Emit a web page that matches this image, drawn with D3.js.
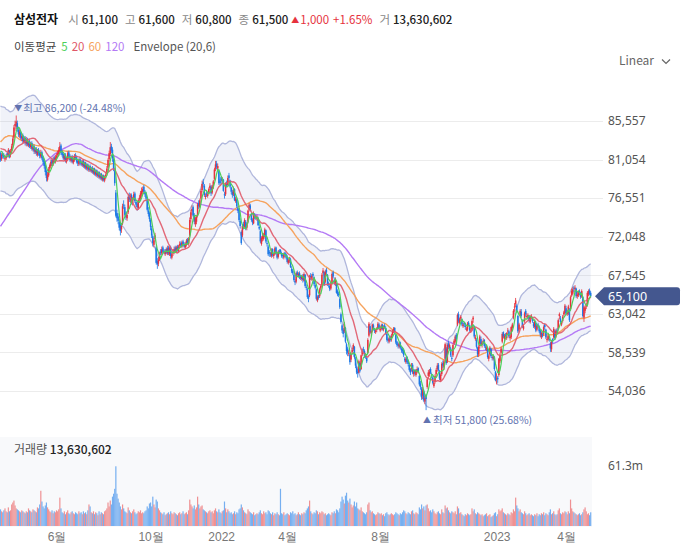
<!DOCTYPE html>
<html><head><meta charset="utf-8">
<script src="https://cdn.jsdelivr.net/npm/d3@7"></script>
<style>
body{margin:0;background:#fff;}
svg{display:block;font-family:"Noto Sans CJK KR","Noto Sans",sans-serif;}
</style></head><body><svg id="c" width="685" height="551"></svg>
<script>
// ---------------- DATA ----------------
const startDate = "2021-03-19", endDate = "2023-05-04";
const holidays = ["2021-05-05","2021-05-19","2021-08-16","2021-09-20","2021-09-21","2021-09-22","2021-10-04","2021-10-11","2021-12-31",
  "2022-01-31","2022-02-01","2022-02-02","2022-03-01","2022-03-09","2022-05-05","2022-06-01","2022-06-06","2022-08-15","2022-09-09","2022-09-12","2022-10-03","2022-10-10","2022-12-30",
  "2023-01-23","2023-01-24","2023-03-01","2023-05-01"];
// closes before the visible window (x100 won), used only to warm up the moving averages
const warmupCloses = [584,578,582,573,576,582,582,
  587,595,602,600,600,598,606,597,595,598,603,606,601,605,600,593,591,577,566,
  574,588,585,603,600,602,602,613,610,632,663,640,648,646,647,675,677,666,680,682,667,
  678,695,697,715,729,717,739,729,734,738,738,738,733,730,730,723,739,778,787,783,810,
  830,839,822,829,888,910,906,897,897,880,850,870,872,881,868,894,867,856,837,820,
  830,844,846,835,835,830,817,816,842,849,832,821,826,822,820,820,853,825,
  836,840,824,821,820,814,809,820,818,818,828,823,823];
// daily prices, x100 won
const closes = [
 810,816,815,813,812,815,816,822,814,
 820,826,835,848,852,855, 846,840,843,836,838,832,835,830, 834,828,831,826,829,823,825,820,822,818,821,
 818,815,819,812,808,803,796, 789,793,799, 804,808,806,811,809,813,
 815,818,822,826,819, 816,812,815,809,812,818,814,810,813,808,811,815,812,808,806,810,807,
 805,808,803,806,801,804,799,802,798,800,796,799,794,797,792,795,790,793,788,791,787,790,
 793,800,810,818,825,821, 812,800,783,745, 742,739,731,727, 733,756,757,746,743,746,767,
 764,768,761,765,770,762,758,755,763,766,771,774, 776,773,770,765,752,747,741,
 732,722,713,716,722,690,688,694,701,702,706,703,702,704,702,707,701,707,698,
 700,703,706,704,708,705,709,712,710,714,711,709,712,716,713,718,740,749,753,745,738,742,
 744,758,756,763,774,782,782,769,768,770,770,776,780,771,779,785,799,805,802,803,783,783,
 786,787,774,769,783,780,789,789,779,773,769,777,763,765,756,751,740,733,713,733,
 733,740,730,735,751,758,752,740,737,748,743,743,744,734,730,715,719,721,
 723,729,715,712,700,701,700,705,699,700,707,702,696,703,703,702,698,698,700,699,696,
 691,693,695,685,680,678,670,667,678,676,677,673,672,674,670,677,663,661,650,648,674,
 673,675,675,665,661,648,650,649,659,663,676,681,665,680,679,665,664,659,665,677,674,
 667,671,655,653,652,638,621,611,607,619,598,587,585,585,574,584,588,594,580,570,
 562,561,575,564,582,587,588,581,580,575,600,619,609,610,618,613,611,611,613,619,614,
 613,617,613,615,615,608,600,599,602,600,605,610,613,610,597,594,593,596,591,588,587,582,
 576,578,574,572,565,562,570,562,563,561,564,566,563,548,545,533,541,530,532,531,
 554,562,563,562,558,550,550,558,565,570,565,555,559,572,570,575,595,573,594,
 592,594,582,578,594,599,604,601,629,622,624,627,618,618,618,615,613,619,618,611,611,622,
 626,604,603,592,583,592,604,595,597,599,593,591,591,580,581,591,581,579,581,566,553,
 555,554,578,582,590,607,604,605,605,608,611,604,604,615,618,634,639,646,633,610,
 618,634,628,616,616,631,630,628,629,622,627,628,622,616,622,611,617,617,610,606,
 608,605,615,615,603,601,605,600,590,598,599,613,602,611,611,623,630,621,620,627,632,640,
 631,632,639,623,650,657,659,660,661,651,653,656,655,650,657,628,638,638,641,655,
 657,654,651];
const opens = [
 818,811,818,816,811,812,818,815,821,
 816,821,827,836,850,849, 853,845,839,842,835,839,831,836, 829,834,827,832,825,830,822,826,819,823,816,
 822,819,814,819,813,809,804, 797,787,792, 800,803,810,805,813,808,
 812,816,817,820,827, 820,817,811,816,808,811,819,815,809,814,807,810,816,813,809,805,811,
 808,804,809,802,807,800,805,798,803,797,801,795,800,793,798,791,796,789,794,787,792,786,
 791,794,801,811,817,826, 822,811,798,772, 748,744,738,735, 729,736,758,755,748,742,749,
 769,763,769,760,766,771,761,759,754,764,765,770, 773,779,772,771,763,751,748,
 740,730,721,711,718,708,692,689,695,703,701,708,704,700,706,701,708,700,708,
 696,701,702,708,703,709,704,710,713,709,715,712,708,711,717,712,722,741,750,755,746,735,
 738,745,760,755,765,775,784,780,767,771,768,772,777,779,772,778,788,800,806,800,797,786,
 790,786,787,770,770,784,781,792,786,778,773,770,776,762,764,754,752,739,726,722,
 735,732,738,731,738,752,757,745,740,736,746,744,741,742,732,727,712,718,
 718,722,728,713,709,703,701,698,706,698,700,708,701,697,704,705,701,699,696,702,700,
 697,690,692,694,683,681,676,669,668,679,675,678,674,671,675,669,676,662,659,651,652,
 675,671,677,673,664,659,646,652,651,660,664,678,679,668,682,676,666,663,660,666,679,
 670,665,666,657,654,648,630,617,612,610,614,595,590,584,583,577,586,589,592,578,
 568,563,562,573,566,583,589,587,582,579,585,605,616,608,611,617,612,609,612,614,618,
 611,613,618,612,617,614,607,601,598,603,600,606,610,614,606,598,595,592,597,590,589,588,
 578,574,580,575,571,566,566,571,560,565,559,563,567,558,549,543,535,540,528,535,
 545,558,560,566,560,556,546,551,560,566,571,563,553,560,573,568,578,590,575,
 596,590,590,579,582,596,598,606,618,630,620,625,624,616,620,617,613,612,620,617,610,612,
 624,616,601,600,591,583,593,601,594,598,600,592,589,590,578,583,590,580,578,580,563,
 555,556,559,575,585,598,609,601,606,602,610,610,602,603,614,626,638,642,640,628,
 612,628,633,622,613,622,634,628,626,628,621,627,626,619,615,620,612,618,615,611,
 603,607,607,618,612,600,601,601,596,589,601,603,610,604,612,613,628,625,618,622,630,631,
 637,630,631,635,636,652,654,661,659,660,651,652,657,654,651,650,626,634,639,641,
 653,658,655];
const highs = [
 820,818,820,818,815,817,820,824,822,
 823,829,838,851,856,862, 856,848,846,844,841,841,838,838, 837,836,833,834,831,832,828,828,825,825,823,
 824,821,822,821,815,811,806, 799,796,802, 806,811,812,814,815,816,
 818,821,825,831,829, 822,819,817,818,814,820,821,817,815,816,813,817,818,815,811,812,813,
 810,810,811,808,808,806,806,804,805,802,803,801,801,799,799,797,797,795,795,793,793,792,
 796,803,812,821,831,829, 825,814,801,775, 752,748,741,737, 736,759,763,758,750,749,770,
 772,771,771,767,773,773,764,761,765,769,774,778, 779,781,775,773,765,755,750,
 742,733,723,719,725,710,696,697,703,706,709,710,706,706,708,710,710,709,710,
 702,706,709,710,710,711,711,715,715,716,717,714,714,718,719,720,743,752,757,757,748,744,
 746,760,763,765,776,786,788,782,771,774,773,778,783,781,781,787,801,809,809,806,799,788,
 791,790,788,773,784,786,792,795,787,779,775,779,777,767,766,756,753,742,728,735,
 738,742,740,737,752,760,759,748,742,750,748,746,746,744,735,729,721,724,
 725,731,729,716,711,705,703,707,707,702,709,709,703,705,706,706,703,701,702,703,701,
 699,695,697,696,686,683,678,671,680,681,679,680,676,676,677,679,677,665,661,653,676,
 678,677,679,674,666,660,652,653,661,665,678,684,680,682,684,677,668,665,667,679,681,
 673,673,667,659,656,650,632,619,614,621,615,597,592,588,585,586,591,596,593,580,
 570,566,577,575,583,590,592,589,584,581,602,621,617,612,619,619,614,613,615,621,620,
 616,619,619,617,619,616,608,603,604,605,607,612,615,615,607,599,597,598,598,592,591,590,
 580,580,581,577,572,567,573,573,565,566,566,569,568,559,552,545,545,542,535,537,
 556,565,566,568,562,558,552,560,567,573,573,565,561,574,576,577,597,592,596,
 599,596,592,582,596,601,606,608,631,633,626,629,625,620,621,620,615,621,622,618,614,624,
 628,617,606,602,592,594,606,604,599,602,601,595,594,591,583,593,591,583,583,581,564,
 561,558,579,585,592,609,610,607,608,609,614,612,606,616,620,636,643,649,642,629,
 620,636,636,624,618,633,636,631,631,629,629,630,627,621,624,622,619,620,617,612,
 610,609,617,619,613,604,607,604,598,600,602,615,612,613,614,625,632,628,622,629,634,642,
 640,635,641,637,652,660,662,663,664,661,656,658,659,656,659,651,640,640,643,657,
 659,660,657];
const lows = [
 808,809,812,811,808,810,813,813,812,
 813,818,824,834,844,846, 843,837,836,834,832,830,829,827, 826,826,825,824,823,821,820,817,817,815,814,
 815,812,812,810,805,800,792, 785,785,790, 797,801,803,803,806,806,
 809,813,815,818,816, 814,810,809,807,806,809,812,808,807,806,805,808,810,806,803,803,804,
 803,802,801,800,799,798,797,796,796,795,794,793,792,791,790,789,788,787,786,785,785,784,
 788,792,799,808,815,818, 808,797,780,743, 738,735,728,722, 725,734,753,744,740,739,747,
 761,760,758,757,763,760,755,751,752,760,763,767, 770,771,767,762,750,744,738,
 728,719,709,708,715,688,683,686,692,699,699,701,700,698,700,699,699,698,695,
 694,698,700,702,701,703,702,707,708,707,709,707,706,709,711,710,720,737,746,743,735,732,
 735,743,753,754,763,772,778,767,764,767,766,770,775,768,770,776,786,797,799,797,781,780,
 782,783,773,765,768,778,780,785,777,770,766,768,762,760,754,748,738,730,711,720,
 729,730,728,728,736,750,750,738,734,735,741,740,739,733,728,713,710,715,
 716,720,713,709,698,697,697,696,697,695,699,700,694,695,700,700,696,695,694,697,694,
 689,688,690,684,678,676,668,664,666,674,673,671,670,669,667,668,661,658,648,644,650,
 670,669,673,663,659,646,644,647,649,658,662,675,663,666,677,663,661,657,658,664,672,
 664,663,654,651,650,636,619,608,603,608,596,583,581,581,571,574,584,587,578,567,
 560,556,561,562,565,581,585,579,578,573,584,603,607,605,609,611,608,607,609,612,612,
 609,611,611,610,613,606,598,596,596,598,598,604,608,608,595,592,590,590,589,585,584,580,
 574,572,572,569,563,559,563,560,557,558,557,561,561,546,542,530,531,528,525,518,
 543,555,557,560,555,548,544,549,558,563,563,553,551,558,567,565,576,571,573,
 589,588,580,575,580,594,596,599,616,620,618,622,616,614,615,612,610,610,616,609,608,610,
 620,602,599,590,580,580,590,593,591,595,591,588,587,578,575,581,579,576,576,564,552,
 548,550,557,573,583,596,602,598,603,600,607,602,599,601,612,624,633,638,631,608,
 609,626,626,614,611,620,627,625,624,620,619,624,620,614,613,609,610,614,608,603,
 601,603,605,612,601,597,599,598,586,586,596,601,600,602,608,611,624,619,616,620,627,629,
 629,628,629,621,634,650,652,656,656,649,648,650,652,648,649,626,621,631,636,639,
 651,652,649];
// daily volume, millions of shares
const volumes = [
 17,15,14,16,18,15,14,19,15,
 16,22,24,26,21,18, 17,16,15,14,16,15,14,13, 15,14,18,16,15,14,17,16,15,14,19,
 18,22,36,25,20,18,21, 24,19,17, 15,14,16,13,15,14,
 16,15,17,29,18, 14,13,15,12,14,16,13,12,14,15,13,12,14,13,12,15,13,
 14,12,15,13,14,12,16,22,20,14,13,15,12,14,13,11,15,12,14,13,12,15,
 16,18,24,20,26,22, 30,33,38,61, 33,28,24,20, 17,22,18,15,14,13,19,
 16,14,13,15,17,14,12,13,15,14,16,13, 14,13,15,16,20,18,23,
 24,20,30,22,19,27,25,18,16,14,13,12,14,11,12,13,14,12,15,
 13,12,14,13,12,11,13,14,12,13,15,12,13,14,12,16,27,22,20,18,21,17,
 19,30,22,18,20,21,17,16,15,14,13,15,16,14,15,13,16,18,15,14,17,14,
 13,15,16,25,18,14,17,15,13,14,12,13,15,12,14,13,17,18,22,19,
 16,14,13,12,17,15,14,13,12,14,11,12,13,12,14,16,13,12,
 15,13,14,12,16,15,13,12,14,11,13,12,14,12,11,38,13,12,14,11,12,
 13,12,11,14,13,15,12,13,11,12,14,12,11,13,12,14,13,16,18,20,26,
 15,13,12,14,13,16,15,12,14,13,15,14,12,13,11,12,13,12,11,14,13,
 15,13,17,16,14,18,25,30,27,23,31,34,26,24,28,22,19,21,25,20,
 24,18,17,16,19,15,14,13,12,14,22,24,16,14,15,13,12,11,12,14,13,
 12,13,11,12,10,13,14,12,11,12,13,12,11,12,14,13,12,11,13,12,14,16,
 15,13,12,14,13,12,15,16,13,12,14,13,12,19,17,22,18,20,16,21,
 22,18,15,16,14,17,15,13,12,14,15,13,12,17,14,13,21,18,19,
 16,14,13,15,14,13,15,12,20,18,13,14,12,11,10,12,11,13,12,11,12,18,
 15,17,13,12,14,13,12,11,12,10,11,12,13,10,11,12,9,10,11,13,14,
 10,12,17,15,16,18,14,13,12,11,13,12,11,14,13,17,15,29,21,18,
 15,17,14,13,12,15,13,11,12,13,11,12,11,10,12,11,13,10,12,11,
 13,12,14,11,13,12,11,14,17,12,13,15,12,11,12,16,18,13,12,14,13,15,
 14,12,15,13,27,18,15,14,13,12,11,12,13,11,12,14,17,19,15,12,
 13,11,14];
const yTicks = [85557, 81054, 76551, 72048, 67545, 63042, 58539, 54036];
const xTickDates = ["2021-06-01","2021-10-01","2022-01-03","2022-04-01","2022-08-01","2023-01-02","2023-04-03"];
const xTickLabels = ["6월","10월","2022","4월","8월","2023","4월"];
const volTicks = [61.3];
const maPeriods = [5, 20, 60, 120];
const envelope = {period: 20, pct: 6};
const headerName = "삼성전자";
const headerLabels = ["시","고","저","종"];
const headerValues = ["61,100","61,600","60,800","61,500"];
const headerChange = ["1,000","+1.65%"];
const headerVolume = "13,630,602";

// ---------------- STYLE ----------------
const UP = "#e6323d", DOWN = "#1c78e6";
const VUP = "#ef9193", VDOWN = "#76aff0";
const maColors = ["#4ccf5a", "#e05868", "#f6a35e", "#b47af5"];
const LABEL = "#6273b0";

const svg = d3.select("#c");
svg.append("rect").attr("width",685).attr("height",551).attr("fill","#fff");

const N = closes.length;
const parse = d3.utcParse("%Y-%m-%d"), fmtD = d3.utcFormat("%Y-%m-%d");
const hol = new Set(holidays);
const dates = d3.utcDay.range(parse(startDate), d3.utcDay.offset(parse(endDate), 1))
  .filter(d => d.getUTCDay() % 6 !== 0 && !hol.has(fmtD(d)));
const dateIdx = s => { const t = parse(s); const i = dates.findIndex(d => d >= t); return i < 0 ? 0 : i; };

const x = d3.scaleLinear().domain([0, N - 1]).range([0.5, 590.7]);
const y = d3.scaleLinear().domain([54036, 85557]).range([391, 121]);
const yv = d3.scaleLinear().domain([0, 61.3]).range([526, 466]);

// grid
svg.append("g").selectAll("line").data(yTicks).join("line")
  .attr("x1", 0).attr("x2", 603)
  .attr("y1", d => Math.round(y(d)) + 0.5).attr("y2", d => Math.round(y(d)) + 0.5)
  .attr("stroke", "#ececec");

// y axis
const ya = svg.append("g").attr("transform","translate(603,0)")
  .call(d3.axisRight(y).tickValues(yTicks).tickFormat(d3.format(",")).tickSize(0).tickPadding(5));
ya.select(".domain").remove();
ya.selectAll("text").attr("fill","#555").style("font-size","12px").style("font-family",'"Noto Sans","Noto Sans CJK KR",sans-serif');

// clip
svg.append("defs").append("clipPath").attr("id","pc").append("rect")
  .attr("x",0).attr("y",92).attr("width",601).attr("height",340);
const pg = svg.append("g").attr("clip-path","url(#pc)");

// moving averages
const full = warmupCloses.concat(closes);
const W = warmupCloses.length;
function ma(p) {
  return closes.map((c, j) => {
    const k = j + W;
    if (k - p + 1 < 0) return null;
    return d3.mean(full.slice(k - p + 1, k + 1)) * 100;
  });
}
const mas = maPeriods.map(ma);
const env = ma(envelope.period);
const up = env.map(v => v == null ? null : v * (1 + envelope.pct / 100));
const lo = env.map(v => v == null ? null : v * (1 - envelope.pct / 100));

const idx = d3.range(N);
pg.append("path").datum(idx.filter(i => up[i] != null))
  .attr("d", d3.area().x(i => x(i)).y0(i => y(lo[i])).y1(i => y(up[i])))
  .attr("fill", "rgba(112,124,200,0.10)");
[up, lo].forEach(arr => {
  pg.append("path").datum(idx.filter(i => arr[i] != null))
    .attr("d", d3.line().x(i => x(i)).y(i => y(arr[i])))
    .attr("fill","none").attr("stroke","#b0b7dc").attr("stroke-width",1.3);
});

// slow MAs under candles
[3, 2].forEach(m => {
  pg.append("path").datum(idx.filter(i => mas[m][i] != null))
    .attr("d", d3.line().x(i => x(i)).y(i => y(mas[m][i])))
    .attr("fill","none").attr("stroke", maColors[m]).attr("stroke-width",1.4);
});

// candles
const cg = pg.append("g");
idx.forEach(i => {
  const o = opens[i] * 100, c = closes[i] * 100;
  const h = Math.max(highs[i], opens[i], closes[i]) * 100, l = Math.min(lows[i], opens[i], closes[i]) * 100;
  const col = c >= o ? UP : DOWN;
  cg.append("rect").attr("x", x(i) - 0.4).attr("width", 0.8)
    .attr("y", y(h)).attr("height", Math.max(0.8, y(l) - y(h))).attr("fill", col);
  cg.append("rect").attr("x", x(i) - 0.75).attr("width", 1.5)
    .attr("y", y(Math.max(o, c))).attr("height", Math.max(1, Math.abs(y(o) - y(c)))).attr("fill", col);
});

// fast MAs over candles
[1, 0].forEach(m => {
  pg.append("path").datum(idx.filter(i => mas[m][i] != null))
    .attr("d", d3.line().x(i => x(i)).y(i => y(mas[m][i])))
    .attr("fill","none").attr("stroke", maColors[m]).attr("stroke-width", m === 1 ? 1.4 : 1.2)
    .attr("stroke-opacity", m === 1 ? 0.9 : 1);
});

// high / low markers
const fmt = d3.format(",");
const last = closes[N - 1] * 100;
const hiI = d3.maxIndex(highs), loI = d3.minIndex(lows);
const hiV = highs[hiI] * 100, loV = lows[loI] * 100;
const pct = v => ((last - v) / v * 100).toFixed(2);
svg.append("text").attr("x", x(hiI) + 2).attr("y", y(hiV) - 4).attr("text-anchor","middle")
  .attr("fill", LABEL).style("font-size","8px").text("▼");
svg.append("text").attr("x", x(hiI) + 7).attr("y", y(hiV) - 3).attr("fill", LABEL)
  .style("font-size","10.5px").text(`최고 ${fmt(hiV)} (${pct(hiV)}%)`);
svg.append("text").attr("x", x(loI) + 1).attr("y", y(loV) + 13).attr("text-anchor","middle")
  .attr("fill", LABEL).style("font-size","8px").text("▲");
svg.append("text").attr("x", x(loI) + 7).attr("y", y(loV) + 14).attr("fill", LABEL)
  .style("font-size","10.5px").text(`최저 ${fmt(loV)} (${pct(loV)}%)`);

// last price tag
const ly = y(last);
svg.append("path").attr("d", `M595,${ly} L604,${ly-9} L677,${ly-9} Q680,${ly-9} 680,${ly-6} L680,${ly+6} Q680,${ly+9} 677,${ly+9} L604,${ly+9} Z`)
  .attr("fill", "#44578f");
svg.append("text").attr("x", 608).attr("y", ly + 4.5).attr("fill","#fff")
  .style("font-size","12.5px").style("font-family",'"Noto Sans",sans-serif').text(fmt(last));

// volume panel
svg.append("rect").attr("x",0).attr("y",437).attr("width",592).attr("height",90).attr("fill","#f8f9fb");
svg.append("g").selectAll("rect").data(idx).join("rect")
  .attr("x", i => x(i) - 0.6).attr("width", 1.2)
  .attr("y", i => yv(volumes[i])).attr("height", i => 526 - yv(volumes[i]))
  .attr("fill", i => closes[i] >= opens[i] ? VUP : VDOWN);
const va = svg.append("g").attr("transform","translate(603,0)")
  .call(d3.axisRight(yv).tickValues(volTicks).tickFormat(d => d + "m").tickSize(0).tickPadding(5));
va.select(".domain").remove();
va.selectAll("text").attr("fill","#555").style("font-size","12px").style("font-family",'"Noto Sans",sans-serif');

// x axis
const xa = svg.append("g").attr("transform","translate(0,528)")
  .call(d3.axisBottom(x).tickValues(xTickDates.map(dateIdx)).tickFormat((d, k) => xTickLabels[k]).tickSize(0).tickPadding(4));
xa.select(".domain").remove();
xa.selectAll("text").attr("fill","#777").style("font-size","12px");

// volume title
const vt = svg.append("text").attr("x",14).attr("y",454).style("font-size","12px");
vt.append("tspan").attr("fill","#555").text("거래량 ");
vt.append("tspan").attr("fill","#222").style("font-weight","500").text(headerVolume);

// flowing text helper
function flow(g, x0, yy, items) {
  let cx = x0;
  items.forEach(it => {
    cx += it.gap || 0;
    const t = g.append("text").attr("x", cx).attr("y", yy + (it.dy || 0)).attr("fill", it.color)
      .style("font-size", it.size || "12px").style("font-weight", it.weight || "400").text(it.text);
    cx += t.node().getComputedTextLength();
  });
}
const h1 = svg.append("g");
const items1 = [{text: headerName, color: "#111", weight: "700", size: "12px"}];
headerLabels.forEach((t, k) => {
  items1.push({text: t, color: "#888", gap: k === 0 ? 10 : 7, size: "11.5px"});
  items1.push({text: headerValues[k], color: "#222", weight: "500", gap: 3, size: "11.5px"});
});
items1.push({text: "▲", color: UP, size: "8px", gap: 3, dy: -1});
items1.push({text: headerChange[0], color: UP, gap: 1, size: "11.5px"});
items1.push({text: headerChange[1], color: UP, gap: 4, size: "11.5px"});
items1.push({text: "거", color: "#888", gap: 7, size: "11.5px"});
items1.push({text: headerVolume, color: "#222", weight: "500", gap: 3, size: "11.5px"});
flow(h1, 14, 24, items1);

const h2 = svg.append("g");
const items2 = [{text: "이동평균", color: "#444", size: "11.5px"}];
maPeriods.forEach((p, k) => items2.push({text: String(p), color: maColors[k], gap: k === 0 ? 5 : 4, size: "11.5px"}));
items2.push({text: `Envelope (${envelope.period},${envelope.pct})`, color: "#555", gap: 9, size: "11.5px"});
flow(h2, 14, 51, items2);

// Linear selector
const lt = svg.append("text").attr("x",619).attr("y",65).attr("fill","#666").style("font-size","12px").text("Linear");
const lw = lt.node().getComputedTextLength();
const cx0 = 619 + lw + 8;
svg.append("path").attr("d",`M${cx0},59.5 L${cx0+4},63.5 L${cx0+8},59.5`).attr("fill","none").attr("stroke","#666").attr("stroke-width",1.2);
</script></body></html>
